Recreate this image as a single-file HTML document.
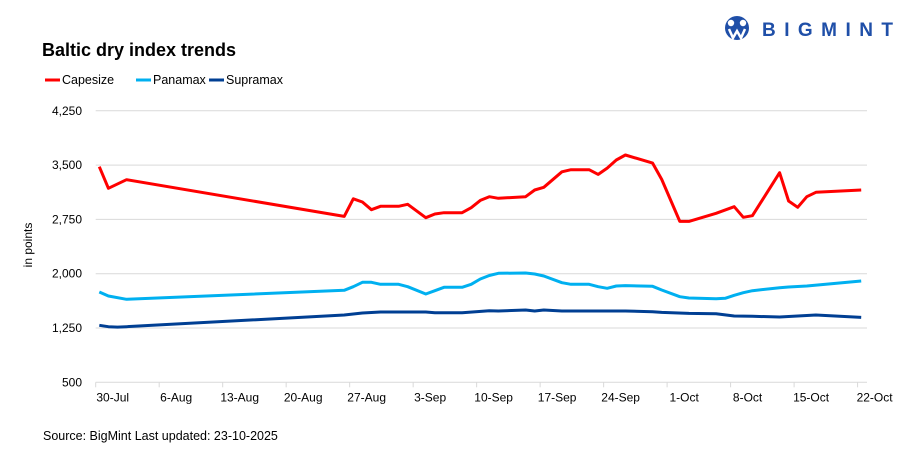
<!DOCTYPE html>
<html><head><meta charset="utf-8">
<style>
html,body{margin:0;padding:0;background:#fff;width:910px;height:457px;overflow:hidden;font-family:"Liberation Sans",Arial,sans-serif}
</style></head>
<body>
<svg id="chart" width="910" height="457" xmlns="http://www.w3.org/2000/svg" font-family="Liberation Sans, Arial, sans-serif">
  <g>
    <circle cx="737" cy="28" r="12" fill="#1f4fa8"/>
    <circle cx="731" cy="23" r="3.2" fill="#fff"/>
    <circle cx="743" cy="23" r="3.2" fill="#fff"/>
    <path d="M729 29 L733 38 L737 31 L741 38 L745 29" stroke="#fff" stroke-width="2.5" fill="none"/>
    <text x="762" y="36" font-size="19" font-weight="bold" fill="#1f4fa8" textLength="131" lengthAdjust="spacing">BIGMINT</text>
  </g>
  <text x="42" y="56" font-size="18" font-weight="bold" fill="#000">Baltic dry index trends</text>
  <g id="legend"></g>
  <text transform="translate(32,245) rotate(-90)" text-anchor="middle" font-size="12" fill="#000">in points</text>
  <g id="grid"></g>
  <g id="series"></g>
  <text x="43" y="440" font-size="12.5" fill="#000">Source: BigMint Last updated: 23-10-2025</text>
</svg>
<script>
const yTicks=[500,1250,2000,2750,3500,4250];
const xTickLabels=["30-Jul","6-Aug","13-Aug","20-Aug","27-Aug","3-Sep","10-Sep","17-Sep","24-Sep","1-Oct","8-Oct","15-Oct","22-Oct"];
const seriesNames=["Capesize","Panamax","Supramax"];
const capeDays=[0,1,3,27,28,29,30,31,33,34,36,37,38,40,41,42,43,44,47,48,49,51,52,54,55,56,57,58,61,62,64,65,68,70,71,72,75,76,77,78,79,84];
const capeVals=[3478,3179,3298,2792,3035,2990,2884,2931,2931,2958,2773,2824,2842,2842,2911,3013,3063,3041,3063,3156,3193,3408,3436,3436,3372,3459,3570,3639,3528,3303,2723,2723,2834,2925,2779,2801,3395,3004,2917,3063,3124,3156];
const panaDays=[0,1,3,27,28,29,30,31,33,34,36,37,38,40,41,42,43,44,47,48,49,51,52,54,55,56,57,58,61,62,64,65,68,69,70,71,72,75,76,78,84];
const panaVals=[1747,1692,1646,1771,1820,1881,1881,1853,1853,1820,1719,1765,1812,1812,1853,1927,1975,2005,2010,1996,1968,1876,1853,1853,1820,1798,1830,1835,1826,1775,1682,1664,1655,1660,1701,1737,1765,1807,1816,1830,1899];
const supraDays=[0,1,2,3,27,29,31,36,37,40,43,44,47,48,49,51,58,61,62,65,68,70,72,75,77,79,84];
const supraVals=[1287,1268,1262,1268,1429,1457,1471,1471,1462,1462,1489,1485,1498,1485,1498,1485,1485,1475,1466,1452,1448,1416,1411,1402,1416,1429,1397];
const colors=["#ff0000","#00b0f0","#003f93"];

const NS="http://www.w3.org/2000/svg";
const X0=95.7, DX=9.07, Y0=382.3, YMIN=500, YPX=54.3/750;
function xs(d){return X0+(d+0.4)*DX;}
function ys(v){return Y0-(v-YMIN)*YPX;}
function mk(tag,attrs,parent){const e=document.createElementNS(NS,tag);for(const k in attrs)e.setAttribute(k,attrs[k]);parent.appendChild(e);return e;}
const grid=document.getElementById('grid');
yTicks.forEach((t,i)=>{
  if(i>0){const l=mk('line',{x1:95.7,x2:867,y1:ys(t),y2:ys(t),stroke:'#d9d9d9','stroke-width':1},grid);
  
  }
  const tx=mk('text',{x:82,y:ys(t)+4,'text-anchor':'end','font-size':12,fill:'#000'},grid);
  tx.textContent=t.toLocaleString('en-US');
  
  
});
const ax=mk('line',{x1:95.7,x2:867,y1:Y0,y2:Y0,stroke:'#d9d9d9','stroke-width':1},grid);


xTickLabels.forEach((lab,i)=>{
  const x=X0+i*7*DX;
  const tk=mk('line',{x1:x,x2:x,y1:Y0,y2:Y0+5,stroke:'#d9d9d9'},grid);
  
  
  const tx=mk('text',{x:x+17,y:Y0+19,'text-anchor':'middle','font-size':12,fill:'#000'},grid);
  tx.textContent=lab;
  
  
});
const ser=document.getElementById('series');
[[capeDays,capeVals],[panaDays,panaVals],[supraDays,supraVals]].forEach((s,i)=>{
  const pts=s[0].map((d,j)=>xs(d).toFixed(1)+','+ys(s[1][j]).toFixed(1)).join(' ');
  const pl=mk('polyline',{points:pts,fill:'none',stroke:colors[i],'stroke-width':3,'stroke-linejoin':'round'},ser);
  
  
});
const leg=document.getElementById('legend');
const lx=[45,136,209];
seriesNames.forEach((n,i)=>{
  const l=mk('line',{x1:lx[i],x2:lx[i]+15,y1:80,y2:80,stroke:colors[i],'stroke-width':3},leg);
  
  
  const t=mk('text',{x:lx[i]+17,y:84,'font-size':12.5,fill:'#000'},leg);
  t.textContent=n;
  
  
});
</script>
</body></html>
